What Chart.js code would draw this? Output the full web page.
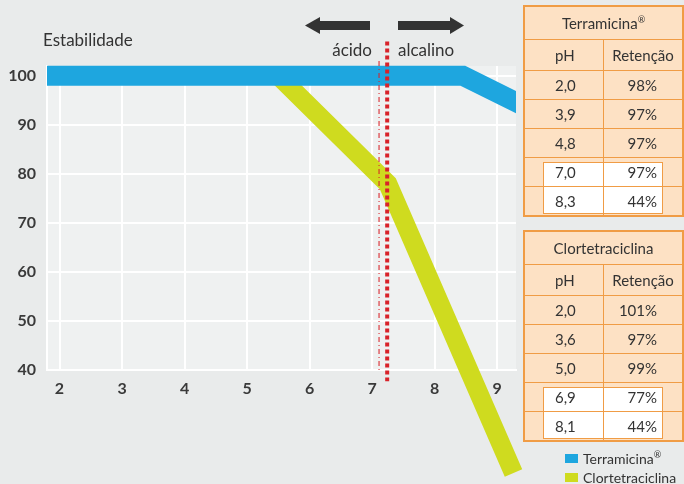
<!DOCTYPE html>
<html>
<head>
<meta charset="utf-8">
<script src="https://cdn.jsdelivr.net/npm/chart.js@4"></script>
<style>
  body { margin: 0; background: #e9ebeb; font-family: Lato, "Open Sans", sans-serif; }
  #wrap { position: relative; width: 684px; height: 484px; overflow: hidden; }
  #chart { position: absolute; left: 0; top: 0; }
  .tbl { position: absolute; left: 523px; width: 161px; background: #fde1c4; box-sizing: border-box; border: 2px solid #f09c45; }
  .tbl table { position: relative; z-index: 1; border-collapse: collapse; width: 100%; height: 100%; color: #333; font-size: 15px; }
  .tbl td { border: 1.5px solid #f09c45; padding: 0; }
  .tbl tr:first-child td { border-top: none; }
  .tbl tr:last-child td { border-bottom: none; }
  .tbl td:first-child { border-left: none; }
  .tbl td:last-child { border-right: none; }
  .tbl td.ph { padding-left: 30px; width: 48px; }
  .tbl td.rt { text-align: right; padding-right: 25px; }
  .tbl td.head { text-align: center; }
  .tbl td.rh { text-align: center; padding: 0; }
  .hl { position: absolute; z-index: 0; left: 18px; width: 120px; background: #fff; border: 1.5px solid #f09c45; box-sizing: border-box; }
  .hl::after { content: ""; position: absolute; left: 59px; top: 0; bottom: 0; border-left: 1.5px solid #f09c45; }
  .leg { position: absolute; left: 565px; font-size: 14px; color: #333; }
  .leg span { display: inline-block; width: 13px; height: 9px; margin-right: 5px; vertical-align: 1px; }
  sup { font-size: 9px; }
</style>
</head>
<body>
<div id="wrap">
  <canvas id="chart" width="684" height="484"></canvas>
  <div class="tbl" id="t1" style="top:5px;height:212px;"></div>
  <div class="tbl" id="t2" style="top:230px;height:212px;"></div>
  <div class="leg" style="top:449px;"><span style="background:#1ea6df"></span>Terramicina<sup>®</sup></div>
  <div class="leg" style="top:469px;"><span style="background:#cfdb1f"></span>Clortetraciclina</div>
</div>
<script>
// curves (pH vs estabilidade)
const terraPH = [1.7, 8.45, 9.4];
const terraVal = [100, 100, 94];
const clorPH = [5.5, 7.25, 9.26];
const clorVal = [100, 78, 19];
const neutralPH = 7.24;
const neutralPH2 = 7.11;
const xTicks = [2, 3, 4, 5, 6, 7, 8, 9];
const yTicks = [40, 50, 60, 70, 80, 90, 100];

// side tables
const terraTabPH = ["2,0", "3,9", "4,8", "7,0", "8,3"];
const terraTabRet = ["98%", "97%", "97%", "97%", "44%"];
const clorTabPH = ["2,0", "3,6", "5,0", "6,9", "8,1"];
const clorTabRet = ["101%", "97%", "99%", "77%", "44%"];

function buildTable(el, title, phs, rets) {
  let rows = '<tr style="height:32px"><td class="head" colspan="2">' + title + '</td></tr>';
  rows += '<tr style="height:31px"><td class="ph">pH</td><td class="rh">Retenção</td></tr>';
  phs.forEach((p, i) => {
    rows += '<tr><td class="ph">' + p + '</td><td class="rt">' + rets[i] + '</td></tr>';
  });
  el.innerHTML = '<div class="hl" style="top:155px;height:52px"></div><table>' + rows + '</table>';
}
buildTable(document.getElementById("t1"), "Terramicina<sup>®</sup>", terraTabPH, terraTabRet);
buildTable(document.getElementById("t2"), "Clortetraciclina", clorTabPH, clorTabRet);

const pts = (xs, ys) => xs.map((x, i) => ({ x: x, y: ys[i] }));

const decor = {
  id: "decor",
  beforeDraw(chart) {
    const { ctx, chartArea: a } = chart;
    ctx.save();
    ctx.fillStyle = "#eff1f1";
    ctx.fillRect(a.left, a.top, a.right - a.left, a.bottom - a.top);
    ctx.restore();
  },
  afterDraw(chart) {
    const ctx = chart.ctx;
    ctx.save();
    ctx.fillStyle = "#333";
    ctx.font = "17px Lato";
    ctx.textBaseline = "alphabetic";
    ctx.textAlign = "left";
    ctx.fillText("Estabilidade", 43, 46);
    ctx.textAlign = "right";
    ctx.fillText("ácido", 372, 56);
    ctx.textAlign = "left";
    ctx.fillText("alcalino", 398, 56);
    // arrows
    ctx.fillRect(319, 21, 51, 9);
    ctx.beginPath();
    ctx.moveTo(305, 25.5); ctx.lineTo(320, 17); ctx.lineTo(320, 34); ctx.closePath();
    ctx.fill();
    ctx.fillRect(398, 21, 53, 9);
    ctx.beginPath();
    ctx.moveTo(464, 25.5); ctx.lineTo(450, 17); ctx.lineTo(450, 34); ctx.closePath();
    ctx.fill();
    ctx.restore();
  }
};

new Chart(document.getElementById("chart"), {
  type: "line",
  data: {
    datasets: [
      {
        label: "neutro",
        data: pts([neutralPH, neutralPH], [107, 37.7]),
        borderColor: "#d8232a",
        borderWidth: 4,
        borderDash: [4, 3],
        pointRadius: 0,
        clip: false,
        order: 0
      },
      {
        label: "neutro2",
        data: pts([neutralPH2, neutralPH2], [103, 40]),
        borderColor: "rgba(216,35,42,0.7)",
        borderWidth: 1.5,
        borderDash: [5, 3, 1, 3],
        pointRadius: 0,
        clip: false,
        order: 0
      },
      {
        label: "Terramicina®",
        data: pts(terraPH, terraVal),
        borderColor: "#1ea6df",
        borderWidth: 20,
        borderCapStyle: "butt",
        borderJoinStyle: "miter",
        pointRadius: 0,
        clip: { left: 0, right: 0, top: 15, bottom: 0 },
        order: 1
      },
      {
        label: "Clortetraciclina",
        data: pts(clorPH, clorVal),
        borderColor: "#cfdb1f",
        borderWidth: 19,
        borderCapStyle: "butt",
        borderJoinStyle: "miter",
        pointRadius: 0,
        clip: false,
        order: 2
      }
    ]
  },
  options: {
    responsive: false,
    animation: false,
    layout: { padding: { left: 0, top: 66, right: 168, bottom: 0 } },
    plugins: { legend: { display: false }, tooltip: { enabled: false } },
    scales: {
      x: {
        type: "linear",
        min: 1.8,
        max: 9.3,
        afterBuildTicks: s => { s.ticks = xTicks.map(v => ({ value: v })); },
        afterFit: s => { s.height = 114; },
        grid: { color: "#ffffff", lineWidth: 2, drawTicks: false },
        border: { color: "#ffffff", width: 2 },
        ticks: { color: "#3a3a3a", font: { family: "Lato", size: 16, weight: "bold" }, padding: 9 }
      },
      y: {
        min: 40,
        max: 102,
        afterBuildTicks: s => { s.ticks = yTicks.map(v => ({ value: v })); },
        afterFit: s => { s.width = 47; },
        grid: { color: "#ffffff", lineWidth: 2, drawTicks: false },
        border: { color: "#ffffff", width: 2 },
        ticks: { color: "#3a3a3a", font: { family: "Lato", size: 16, weight: "bold" }, padding: 11 }
      }
    }
  },
  plugins: [decor]
});
</script>
</body>
</html>
